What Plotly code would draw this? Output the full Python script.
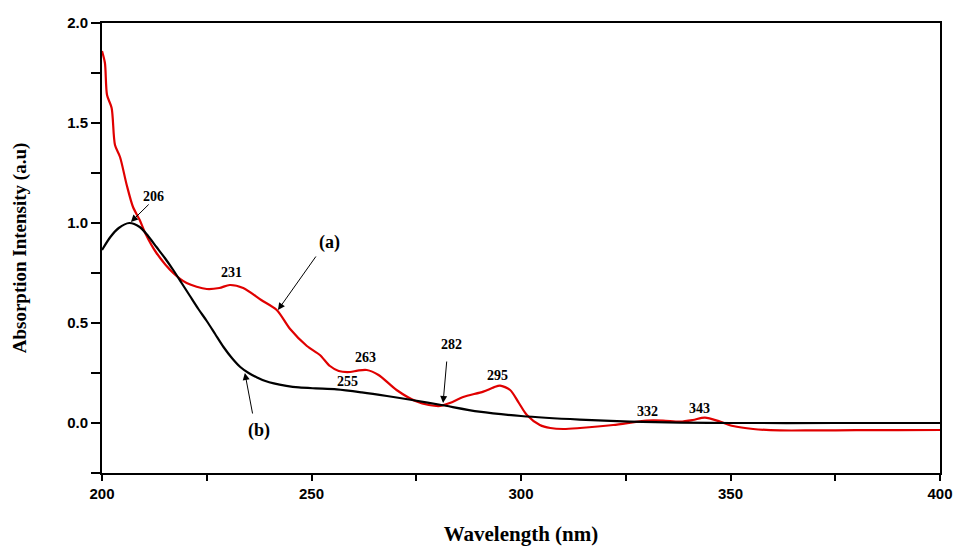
import plotly.graph_objects as go

# Curve (a) - red
red_x = [200, 200.7, 201.2, 202.3, 203.1, 204.3, 205.9, 207.4, 209, 210.3, 213, 217, 220.2,
         225, 228, 230.5, 233.7, 238, 241.7, 244.9, 248.9, 252, 254.4, 256.5, 259.2, 261,
         263.2, 266, 270.3, 275.1, 278, 280.7, 283, 286.2, 291, 293.5, 295, 297.4, 299.5,
         301.4, 304.5, 307, 310.1, 314.1, 322, 330, 333.9, 338, 341, 343.9, 347.5, 350.6,
         355.4, 361.8, 370, 380, 390, 400]
red_y = [1.86, 1.80, 1.64, 1.575, 1.39, 1.33, 1.19, 1.08, 1.015, 0.95, 0.85, 0.75, 0.70,
         0.67, 0.675, 0.69, 0.675, 0.615, 0.565, 0.47, 0.385, 0.34, 0.285, 0.26, 0.255, 0.262,
         0.265, 0.24, 0.165, 0.107, 0.09, 0.085, 0.10, 0.13, 0.157, 0.178, 0.187, 0.165, 0.10,
         0.04, -0.01, -0.025, -0.03, -0.025, -0.01, 0.012, 0.012, 0.007, 0.015, 0.027, 0.007, -0.015,
         -0.03, -0.037, -0.037, -0.036, -0.036, -0.035]

# Curve (b) - black
black_x = [200, 202, 204, 206.5, 209, 211, 213, 215, 217, 219, 221, 223, 225, 227, 229, 231,
           233, 235, 237, 239, 241, 244, 247, 251, 256, 262, 268, 274, 281, 290, 300, 314,
           326, 338, 350, 375, 400]
black_y = [0.865, 0.93, 0.975, 1.0, 0.98, 0.935, 0.88, 0.825, 0.765, 0.70, 0.635, 0.57, 0.51,
           0.445, 0.38, 0.325, 0.28, 0.25, 0.228, 0.21, 0.198, 0.186, 0.178, 0.173, 0.168, 0.153,
           0.135, 0.115, 0.09, 0.057, 0.035, 0.017, 0.007, 0.002, 0.0, 0.0, 0.0]

# Peak labels
label_text = ["206", "231", "263", "255", "282", "295", "332", "343", "(a)", "(b)"]
label_x = [212.2, 231.0, 263.0, 258.7, 283.3, 294.5, 330.1, 342.7, 254.4, 237.5]
label_y = [1.135, 0.755, 0.33, 0.21, 0.395, 0.24, 0.06, 0.075, 0.905, -0.035]
label_size = [14, 14, 14, 14, 14, 14, 14, 14, 18, 18]

# Arrows: (tail_x, tail_y) -> (head_x, head_y)
arrow_tail_x = [211.5, 251.3, 236.0, 282.3]
arrow_tail_y = [1.10, 0.84, 0.04, 0.315]
arrow_head_x = [206.9, 242.0, 234.1, 281.4]
arrow_head_y = [1.005, 0.565, 0.25, 0.10]

fig = go.Figure()
fig.add_trace(go.Scatter(x=red_x, y=red_y, mode="lines",
                         line=dict(color="#e00000", width=2.2, shape="spline", smoothing=0.8),
                         showlegend=False))
fig.add_trace(go.Scatter(x=black_x, y=black_y, mode="lines",
                         line=dict(color="black", width=2.2, shape="spline", smoothing=0.8),
                         showlegend=False))

annotations = []
for t, x, y, s in zip(label_text, label_x, label_y, label_size):
    annotations.append(dict(x=x, y=y, xref="x", yref="y", text=t, showarrow=False,
                            font=dict(family="Liberation Serif", size=s, color="black", weight="bold")))
for tx, ty, hx, hy in zip(arrow_tail_x, arrow_tail_y, arrow_head_x, arrow_head_y):
    annotations.append(dict(x=hx, y=hy, ax=tx, ay=ty, xref="x", yref="y", axref="x", ayref="y",
                            text="", showarrow=True, arrowhead=2, arrowsize=1.4, arrowwidth=1,
                            arrowcolor="black"))

fig.update_layout(
    width=956, height=546,
    margin=dict(l=102, r=16, t=23, b=73),
    paper_bgcolor="white", plot_bgcolor="white",
    annotations=annotations,
    xaxis=dict(range=[200, 400], tickvals=[200, 250, 300, 350, 400], ticks="outside",
               ticklen=6, tickwidth=2, tickcolor="black", automargin=False,
               minor=dict(tickvals=[225, 275, 325, 375], ticks="outside", ticklen=6, tickwidth=2, tickcolor="black"),
               showline=True, linecolor="black", linewidth=2, mirror=True, showgrid=False, zeroline=False,
               tickfont=dict(family="Liberation Sans", size=15, color="black", weight="bold"),
               title=dict(text="Wavelength (nm)", standoff=32,
                          font=dict(family="Liberation Serif", size=21, color="black", weight="bold"))),
    yaxis=dict(range=[-0.25, 2.0], tickvals=[0, 0.5, 1.0, 1.5, 2.0], tickformat=".1f", ticks="outside",
               ticklen=9, tickwidth=2, tickcolor="black", automargin=False,
               minor=dict(tickvals=[-0.25, 0.25, 0.75, 1.25, 1.75], ticks="outside", ticklen=9, tickwidth=2, tickcolor="black"),
               showline=True, linecolor="black", linewidth=2, mirror=True, showgrid=False, zeroline=False,
               tickfont=dict(family="Liberation Sans", size=15, color="black", weight="bold"),
               title=dict(text="Absorption Intensity (a.u)", standoff=35,
                          font=dict(family="Liberation Serif", size=19, color="black", weight="bold"))),
)

fig.write_html("out.html")
